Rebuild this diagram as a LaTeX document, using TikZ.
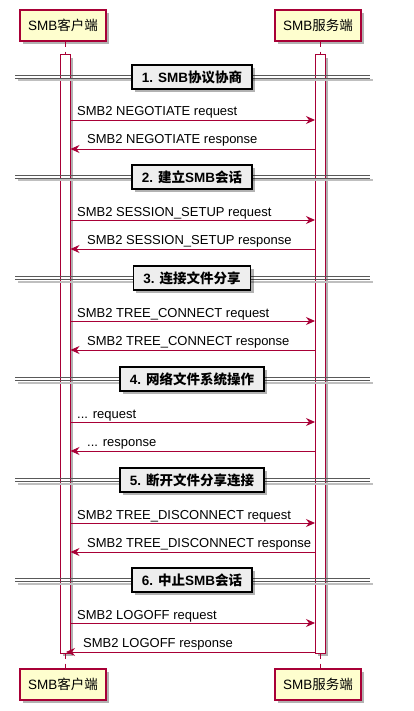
\documentclass[tikz,border=0pt]{standalone}
\usepackage{fontspec}
\setmainfont{Liberation Sans}
\newfontfamily\cjk{Noto Sans CJK SC}
\usetikzlibrary{arrows.meta,shadows}
\definecolor{pred}{HTML}{A80036}
\definecolor{pfill}{HTML}{FEFECE}
\definecolor{dfill}{HTML}{EEEEEE}
\begin{document}
\begin{tikzpicture}[x=1pt,y=-1pt,
  shd/.style={drop shadow={shadow xshift=3pt,shadow yshift=-3pt,opacity=0.3,fill=black}},
  part/.style={draw=pred,fill=pfill,line width=1.1pt,minimum width=86pt,minimum height=31pt,inner sep=0pt,font=\fontsize{13.5}{15}\selectfont,shd},
  life/.style={draw=pred,line width=0.7pt,dash pattern=on 5pt off 5pt},
  act/.style={draw=pred,fill=white,line width=1pt,minimum width=10pt,inner sep=0pt,shd},
  dline/.style={draw=black!65,line width=1.2pt},
  dlineshd/.style={draw=black!25,line width=2pt},
  divbox/.style={draw=black,fill=dfill,line width=1.4pt,minimum height=24pt,inner xsep=10pt,inner ysep=0pt,font=\fontsize{13.5}{15}\selectfont\bfseries,shd},
  msg/.style={draw=pred,line width=0.9pt,-{Stealth[length=9pt,width=8pt,inset=3pt]}},
  lbl/.style={anchor=base west,inner sep=0pt,font=\fontsize{13}{15}\selectfont}
]
\useasboundingbox (0,0) rectangle (414,711);
% participants
\node[part] (ct) at (63,25.5) {SMB{\cjk 客户端}};
\node[part] (st) at (318,25.5) {SMB{\cjk 服务端}};
\node[part] (cb) at (63,684.5) {SMB{\cjk 客户端}};
\node[part] (sb) at (318,684.5) {SMB{\cjk 服务端}};
% activation bars
\node[act,minimum height=598pt] (ca) at (65,354) {};
\node[act,minimum height=598pt] (sa) at (320,354) {};
% lifeline stubs
\draw[life] (ct.south -| ca.north) -- (ca.north);
\draw[life] (st.south -| sa.north) -- (sa.north);
\draw[life] (ca.south) -- (cb.north -| ca.south);
\draw[life] (sa.south) -- (sb.north -| sa.south);
% dividers
\foreach \y in {77,177,278,379,480,580}{
  \draw[dlineshd] (18,\y+3.5) -- (373,\y+3.5);
  \draw[dline] (15,\y-1.6) -- (370,\y-1.6);
  \draw[dline] (15,\y+1.6) -- (370,\y+1.6);
}
\node[divbox] (d1) at (192,77) {1. SMB{\cjk\bfseries 协议协商}};
\node[divbox] (d2) at (192,177) {2. {\cjk\bfseries 建立}SMB{\cjk\bfseries 会话}};
\node[divbox] (d3) at (192,278) {3. {\cjk\bfseries 连接文件分享}};
\node[divbox] (d4) at (192,379) {4. {\cjk\bfseries 网络文件系统操作}};
\node[divbox] (d5) at (192,480) {5. {\cjk\bfseries 断开文件分享连接}};
\node[divbox] (d6) at (192,580) {6. {\cjk\bfseries 中止}SMB{\cjk\bfseries 会话}};
% messages
\foreach \n/\y in {1/77,2/177,3/278,4/379,5/480,6/580}{
  \coordinate (q\n a) at (70,\y+43);
  \coordinate (q\n b) at (315,\y+43);
  \coordinate (r\n a) at (315,\y+72);
  \coordinate (r\n b) at (70.5,\y+72);
  \coordinate (lq\n) at (77,\y+39);
  \coordinate (lr\n) at (87,\y+67);
}
\coordinate (r6b) at (66,652);
\coordinate (lr6) at (83,647);
\foreach \n in {1,...,6}{
  \draw[msg] (q\n a) -- (q\n b);
  \draw[msg] (r\n a) -- (r\n b);
}
\node[lbl] (t1a) at (lq1) {SMB2 NEGOTIATE request};
\node[lbl] (t1b) at (lr1) {SMB2 NEGOTIATE response};
\node[lbl] (t2a) at (lq2) {SMB2 SESSION\_SETUP request};
\node[lbl] (t2b) at (lr2) {SMB2 SESSION\_SETUP response};
\node[lbl] (t3a) at (lq3) {SMB2 TREE\_CONNECT request};
\node[lbl] (t3b) at (lr3) {SMB2 TREE\_CONNECT response};
\node[lbl] (t4a) at (lq4) {... request};
\node[lbl] (t4b) at (lr4) {... response};
\node[lbl] (t5a) at (lq5) {SMB2 TREE\_DISCONNECT request};
\node[lbl] (t5b) at (lr5) {SMB2 TREE\_DISCONNECT response};
\node[lbl] (t6a) at (lq6) {SMB2 LOGOFF request};
\node[lbl] (t6b) at (lr6) {SMB2 LOGOFF response};
\end{tikzpicture}
\end{document}
